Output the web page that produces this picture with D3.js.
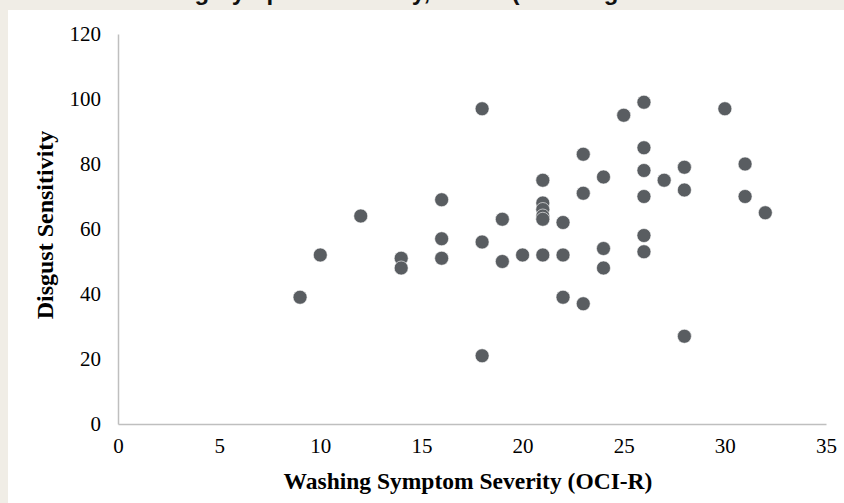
<!DOCTYPE html>
<html>
<head>
<meta charset="utf-8">
<script src="https://cdn.jsdelivr.net/npm/d3@7"></script>
<style>
  html, body { margin: 0; padding: 0; background: #f0ede6; }
  svg { display: block; }
</style>
</head>
<body>
<svg id="chart" width="844" height="503"></svg>
<script>
// ---- data ----
const washingScores = [9, 10, 12, 14, 14, 16, 16, 16, 18, 18, 18, 19, 19, 20,
  21, 21, 21, 21, 21, 21, 22, 22, 22, 23, 23, 23, 24, 24, 24, 25,
  26, 26, 26, 26, 26, 26, 27, 28, 28, 28, 30, 31, 31, 32];
const disgustScores = [39, 52, 64, 51, 48, 69, 57, 51, 97, 56, 21, 63, 50, 52,
  75, 68, 66, 64, 63, 52, 62, 52, 39, 83, 71, 37, 76, 54, 48, 95,
  99, 85, 78, 70, 58, 53, 75, 79, 72, 27, 97, 80, 70, 65];
const xTicks = [0, 5, 10, 15, 20, 25, 30, 35];
const yTicks = [0, 20, 40, 60, 80, 100, 120];
const xTitle = "Washing Symptom Severity (OCI-R)";
const yTitle = "Disgust Sensitivity";
const topTitle = "Washing Symptom Severity, OCI-R (Washing Subscale";

const points = washingScores.map((x, i) => ({ x, y: disgustScores[i] }));

const svg = d3.select("#chart");
const W = 844, H = 503;

// clipped title above the white panel (only its lowest part shows)
svg.append("text")
  .attr("x", 110).attr("y", 0)
  .attr("text-anchor", "start")
  .attr("font-family", "Liberation Sans, Arial, sans-serif")
  .attr("font-weight", "bold")
  .attr("font-size", 24)
  .attr("fill", "#111")
  .text(topTitle);

// white panel (covers anything of the title below y=10)
svg.append("rect").attr("x", 8).attr("y", 10).attr("width", W - 8).attr("height", H - 10).attr("fill", "#ffffff");

const x = d3.scaleLinear().domain([0, 35]).range([118, 826]);
const y = d3.scaleLinear().domain([0, 120]).range([424, 34]);

const fontSerif = "Liberation Serif, Times New Roman, serif";

// x axis
const xAxis = svg.append("g").attr("transform", `translate(0,${y(0)})`)
  .call(d3.axisBottom(x).tickValues(xTicks).tickSize(0).tickPadding(14).tickFormat(d3.format("d")));
xAxis.select(".domain").attr("stroke", "#bfbfbf").attr("stroke-width", 1.5);
xAxis.selectAll("text").attr("font-family", fontSerif).attr("font-size", 21).attr("fill", "#000");

// y axis
const yAxis = svg.append("g").attr("transform", `translate(${x(0)},0)`)
  .call(d3.axisLeft(y).tickValues(yTicks).tickSize(0).tickPadding(17).tickFormat(d3.format("d")));
yAxis.select(".domain").attr("stroke", "#bfbfbf").attr("stroke-width", 1.5);
yAxis.selectAll("text").attr("font-family", fontSerif).attr("font-size", 21).attr("fill", "#000");

// points
svg.append("g").selectAll("circle").data(points).enter().append("circle")
  .attr("cx", d => x(d.x))
  .attr("cy", d => y(d.y))
  .attr("r", 7)
  .attr("fill", "#595d61")
  .attr("stroke", "#ffffff")
  .attr("stroke-width", 0.6);

// axis titles
svg.append("text")
  .attr("x", 468).attr("y", 489)
  .attr("text-anchor", "middle")
  .attr("font-family", fontSerif).attr("font-weight", "bold").attr("font-size", 23.5)
  .attr("fill", "#000")
  .text(xTitle);

svg.append("text")
  .attr("transform", `translate(53,225) rotate(-90)`)
  .attr("text-anchor", "middle")
  .attr("font-family", fontSerif).attr("font-weight", "bold").attr("font-size", 24)
  .attr("fill", "#000")
  .text(yTitle);
</script>
</body>
</html>
